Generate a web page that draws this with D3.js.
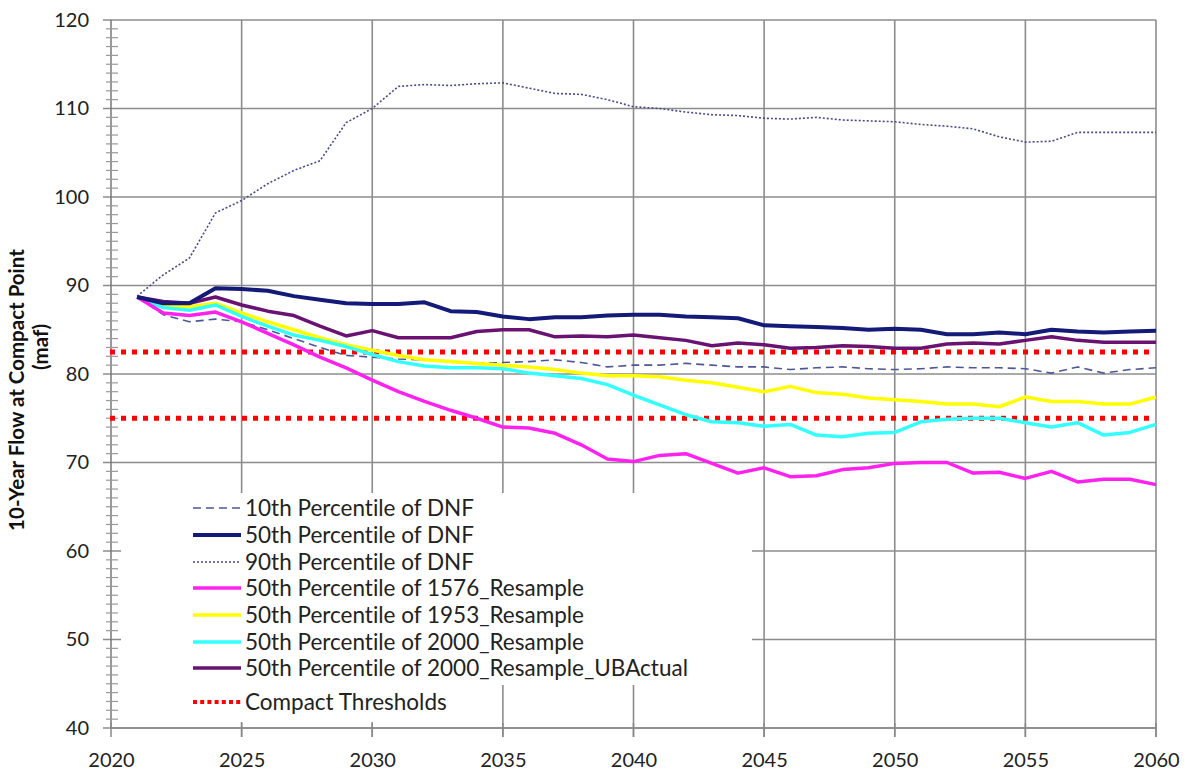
<!DOCTYPE html>
<html><head><meta charset="utf-8">
<script src="https://cdn.jsdelivr.net/npm/d3@7"></script>
<style>body{margin:0;background:#fff}svg{display:block}text{font-variant-ligatures:none;font-feature-settings:"liga" 0,"clig" 0,"dlig" 0}</style>
</head><body>
<svg id="c" width="1185" height="772"></svg>
<script>
const years = d3.range(2021, 2061);
const p10DNF = [88.7,86.7,85.9,86.2,85.9,85.0,84.0,83.0,82.1,81.9,81.7,81.6,81.4,81.2,81.3,81.4,81.6,81.3,80.8,81.0,81.0,81.2,81.0,80.8,80.8,80.5,80.7,80.8,80.6,80.5,80.6,80.8,80.7,80.7,80.6,80.1,80.8,80.1,80.5,80.7];
const p50DNF = [88.7,88.0,88.0,89.7,89.6,89.4,88.8,88.4,88.0,87.9,87.9,88.1,87.1,87.0,86.5,86.2,86.4,86.4,86.6,86.7,86.7,86.5,86.4,86.3,85.5,85.4,85.3,85.2,85.0,85.1,85.0,84.5,84.5,84.7,84.5,85.0,84.8,84.7,84.8,84.9];
const p90DNF = [88.8,91.2,93.1,98.2,99.6,101.5,103.0,104.1,108.4,110.0,112.5,112.7,112.6,112.8,112.9,112.3,111.7,111.6,111.0,110.2,110.0,109.6,109.3,109.2,108.9,108.8,109.0,108.7,108.6,108.5,108.2,108.0,107.7,106.8,106.2,106.3,107.3,107.3,107.3,107.3];
const r1576 = [88.7,86.9,86.6,87.0,85.9,84.6,83.3,81.9,80.7,79.3,78.0,76.9,75.9,75.0,74.0,73.9,73.3,72.0,70.4,70.1,70.8,71.0,69.9,68.8,69.4,68.4,68.5,69.2,69.4,69.9,70.0,70.0,68.8,68.9,68.2,69.0,67.8,68.1,68.1,67.5];
const r1953 = [88.7,87.7,87.6,88.0,86.9,85.9,85.0,84.1,83.3,82.7,82.1,81.6,81.4,81.2,81.0,80.8,80.5,80.1,79.8,79.8,79.7,79.3,79.0,78.5,78.0,78.6,77.9,77.7,77.3,77.1,76.9,76.6,76.6,76.3,77.4,76.9,76.9,76.6,76.6,77.4];
const r2000 = [88.7,87.5,87.2,87.8,86.5,85.4,84.4,83.8,83.1,82.2,81.4,80.9,80.7,80.7,80.6,80.1,79.8,79.5,78.8,77.6,76.5,75.4,74.6,74.5,74.1,74.3,73.1,72.9,73.3,73.4,74.6,74.9,75.0,75.0,74.5,74.0,74.5,73.1,73.4,74.3];
const r2000UB = [88.7,88.2,88.0,88.7,87.8,87.1,86.6,85.4,84.3,84.9,84.1,84.1,84.1,84.8,85.0,85.0,84.2,84.3,84.2,84.4,84.1,83.8,83.2,83.5,83.3,82.9,83.0,83.2,83.1,82.9,82.9,83.4,83.5,83.4,83.8,84.2,83.8,83.6,83.6,83.6];
const thresholds = [82.5, 75.0];
const xTicks = d3.range(2020, 2061, 5);
const yTicks = d3.range(40, 121, 10);
const legendLabels = ["10th Percentile of DNF","50th Percentile of DNF","90th Percentile of DNF","50th Percentile of 1576_Resample","50th Percentile of 1953_Resample","50th Percentile of 2000_Resample","50th Percentile of 2000_Resample_UBActual","Compact Thresholds"];

const series = [
  {name: legendLabels[0], values: p10DNF, color: "#4d5796", width: 1.6, dash: "8,5"},
  {name: legendLabels[1], values: p50DNF, color: "#141a78", width: 4, dash: null},
  {name: legendLabels[2], values: p90DNF, color: "#4a4a88", width: 1.6, dash: "2,2"},
  {name: legendLabels[3], values: r1576, color: "#ff22ee", width: 3.5, dash: null},
  {name: legendLabels[4], values: r1953, color: "#ffff00", width: 3.5, dash: null},
  {name: legendLabels[5], values: r2000, color: "#33ffff", width: 3.5, dash: null},
  {name: legendLabels[6], values: r2000UB, color: "#6a1272", width: 3.5, dash: null}
];

const svg = d3.select("#c");
const font = "Lato, 'Open Sans', sans-serif";
const x = d3.scaleLinear().domain([2020, 2060]).range([111, 1156]);
const y = d3.scaleLinear().domain([40, 120]).range([728, 20]);

// gridlines
const grid = svg.append("g");
grid.selectAll(".hg").data(yTicks).join("line")
  .attr("x1", 103).attr("x2", x(2060)).attr("y1", d => y(d)).attr("y2", d => y(d))
  .attr("stroke", "#8c8c8c").attr("stroke-width", 1.6);
grid.selectAll(".vg").data(xTicks.slice(1)).join("line")
  .attr("x1", d => x(d)).attr("x2", d => x(d)).attr("y1", y(120)).attr("y2", 737)
  .attr("stroke", "#8c8c8c").attr("stroke-width", 1.6);

// y axis
const yAxis = d3.axisLeft(y).tickValues(yTicks).tickSize(0).tickPadding(0).tickFormat(d3.format("d"));
const ya = svg.append("g").attr("transform", "translate(89,0)").call(yAxis);
ya.select(".domain").remove();
ya.selectAll("text").attr("font-family", font).attr("font-size", 20).attr("fill", "#222").attr("x", 0);
svg.append("line").attr("x1", 111).attr("x2", 111).attr("y1", y(120)).attr("y2", y(40))
  .attr("stroke", "#777").attr("stroke-width", 1.5);
svg.append("g").selectAll("line").data(d3.range(40, 121, 1).filter(v => v % 10 !== 0)).join("line")
  .attr("x1", 106).attr("x2", 118).attr("y1", d => y(d)).attr("y2", d => y(d))
  .attr("stroke", "#999").attr("stroke-width", 1.2);

// x axis
const xAxis = d3.axisBottom(x).tickValues(xTicks).tickSize(0).tickPadding(0).tickFormat(d3.format("d"));
const xa = svg.append("g").attr("transform", `translate(0,${y(40)})`).call(xAxis);
xa.select(".domain").remove();
xa.selectAll("text").attr("font-family", font).attr("font-size", 20).attr("fill", "#222").attr("dy", 0).attr("y", 39);
svg.append("line").attr("x1", x(2020)).attr("x2", x(2060)).attr("y1", y(40)).attr("y2", y(40))
  .attr("stroke", "#888").attr("stroke-width", 1.5);
svg.append("g").selectAll("line").data(xTicks).join("line")
  .attr("x1", d => x(d)).attr("x2", d => x(d)).attr("y1", 723).attr("y2", 737)
  .attr("stroke", "#888").attr("stroke-width", 1.5);

// axis title
svg.append("text").attr("transform", "translate(24,390) rotate(-90)").attr("text-anchor", "middle")
  .attr("font-family", font).attr("font-weight", "bold").attr("font-size", 20.5).attr("fill", "#111")
  .text("10-Year Flow at Compact Point");
svg.append("text").attr("transform", "translate(48,347) rotate(-90)").attr("text-anchor", "middle")
  .attr("font-family", font).attr("font-weight", "bold").attr("font-size", 20.5).attr("fill", "#111")
  .text("(maf)");

// threshold lines
svg.append("g").selectAll("line").data(thresholds).join("line")
  .attr("x1", 110).attr("x2", 1150).attr("y1", d => y(d)).attr("y2", d => y(d))
  .attr("stroke", "#ff0000").attr("stroke-width", 5).attr("stroke-dasharray", "5,6");

// series lines
const line = d3.line().x((d, i) => x(years[i])).y(d => y(d));
const order = [2, 0, 4, 5, 3, 6, 1];
svg.append("g").selectAll("path").data(order.map(i => series[i])).join("path")
  .attr("d", d => line(d.values)).attr("fill", "none")
  .attr("stroke", d => d.color).attr("stroke-width", d => d.width)
  .attr("stroke-dasharray", d => d.dash).attr("stroke-linejoin", "round");

// legend
const lg = svg.append("g");
lg.append("rect").attr("x", 121).attr("y", 493).attr("width", 631).attr("height", 192).attr("fill", "#fff");
lg.append("rect").attr("x", 121).attr("y", 684).attr("width", 350).attr("height", 38).attr("fill", "#fff");
const rowsY = [508, 535, 562, 588, 615, 642, 668, 702];
const items = series.map((s, i) => ({...s, yy: rowsY[i]}));
items.push({name: legendLabels[7], color: "#ff0000", width: 4.5, dash: "4,3.2", yy: rowsY[7]});
const it = lg.selectAll("g.it").data(items).join("g");
it.append("line").attr("x1", 193).attr("x2", 241).attr("y1", d => d.yy).attr("y2", d => d.yy)
  .attr("stroke", d => d.color).attr("stroke-width", d => Math.min(d.width, 4)).attr("stroke-dasharray", d => d.dash);
it.append("text").attr("x", 245).attr("y", d => d.yy + 8).attr("font-family", font).attr("font-size", 22.5)
  .attr("fill", "#222").text(d => d.name);
</script>
</body></html>
